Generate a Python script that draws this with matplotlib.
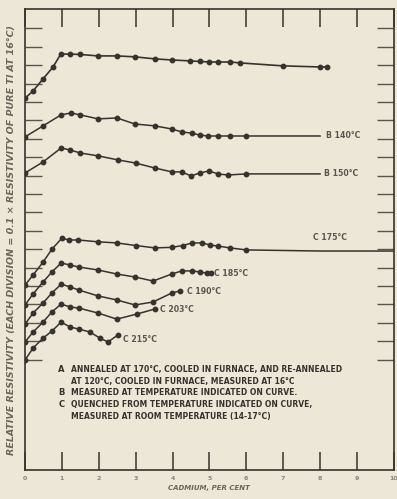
import matplotlib.pyplot as plt

# cadmium per cent / relative resistivity (divisions)
a_x = [0, 0.22, 0.49, 0.76, 0.97, 1.22, 1.49, 1.98, 2.49, 2.98, 3.52, 3.98, 4.47, 4.74, 5.0, 5.23, 5.56, 5.83, 6.99, 8.0, 8.2]
a_y = [20.2, 20.6, 21.25, 21.9, 22.6, 22.6, 22.58, 22.5, 22.5, 22.45, 22.34, 22.28, 22.23, 22.2, 22.17, 22.17, 22.17, 22.12, 21.96, 21.9, 21.9]

b140_x = [0, 0.49, 0.98, 1.25, 1.49, 1.98, 2.49, 2.98, 3.52, 3.98, 4.25, 4.53, 4.74, 4.96, 5.23, 5.56, 6.0, 8.0]
b140_y = [18.1, 18.7, 19.3, 19.4, 19.3, 19.08, 19.13, 18.8, 18.7, 18.53, 18.37, 18.3, 18.2, 18.15, 18.15, 18.15, 18.15, 18.15]

b150_x = [0, 0.49, 0.98, 1.22, 1.49, 1.98, 2.52, 3.0, 3.52, 3.98, 4.25, 4.5, 4.74, 4.99, 5.23, 5.5, 6.0, 8.0]
b150_y = [16.14, 16.74, 17.5, 17.39, 17.23, 17.07, 16.85, 16.68, 16.41, 16.2, 16.2, 15.98, 16.14, 16.25, 16.09, 16.03, 16.09, 16.09]

c175_x = [0, 0.22, 0.49, 0.73, 1.0, 1.19, 1.44, 1.98, 2.49, 3.0, 3.52, 3.98, 4.28, 4.53, 4.8, 5.01, 5.23, 5.56, 6.0, 8.0, 10.0]
c175_y = [10.05, 10.6, 11.3, 12.0, 12.6, 12.5, 12.5, 12.4, 12.34, 12.2, 12.07, 12.1, 12.2, 12.34, 12.34, 12.23, 12.17, 12.07, 11.96, 11.9, 11.9]

c185_x = [0, 0.22, 0.49, 0.73, 0.98, 1.22, 1.46, 1.98, 2.49, 2.98, 3.47, 3.98, 4.25, 4.53, 4.74, 4.93, 5.04]
c185_y = [8.97, 9.57, 10.22, 10.76, 11.25, 11.14, 11.03, 10.87, 10.65, 10.49, 10.27, 10.65, 10.82, 10.82, 10.76, 10.7, 10.7]

c190_x = [0, 0.22, 0.49, 0.73, 0.98, 1.22, 1.46, 1.98, 2.49, 2.98, 3.47, 3.98, 4.2]
c190_y = [7.93, 8.53, 9.08, 9.62, 10.1, 9.95, 9.78, 9.46, 9.24, 8.97, 9.13, 9.62, 9.73]

c203_x = [0, 0.22, 0.49, 0.73, 0.98, 1.22, 1.46, 1.98, 2.49, 3.04, 3.52]
c203_y = [6.96, 7.5, 8.04, 8.59, 9.02, 8.86, 8.8, 8.53, 8.2, 8.48, 8.75]

c215_x = [0, 0.22, 0.49, 0.73, 0.98, 1.22, 1.46, 1.76, 2.03, 2.25, 2.52]
c215_y = [5.98, 6.63, 7.17, 7.55, 8.04, 7.77, 7.66, 7.5, 7.17, 6.96, 7.34]

curve_labels = ['B 140°C', 'B 150°C', 'C 175°C', 'C 185°C', 'C 190°C', 'C 203°C', 'C 215°C']
label_x = [8.15, 8.1, 7.8, 5.12, 4.38, 3.66, 2.66]
label_y = [18.15, 16.09, 12.66, 10.7, 9.7, 8.7, 7.1]

x_ticks = list(range(11))
y_ticks = list(range(6, 25))

notes = [
    ('A', 'ANNEALED AT 170°C, COOLED IN FURNACE, AND RE-ANNEALED'),
    ('', 'AT 120°C, COOLED IN FURNACE, MEASURED AT 16°C'),
    ('B', 'MEASURED AT TEMPERATURE INDICATED ON CURVE.'),
    ('C', 'QUENCHED FROM TEMPERATURE INDICATED ON CURVE,'),
    ('', 'MEASURED AT ROOM TEMPERATURE (14-17°C)'),
]

bg = '#ece7d7'
ink = '#36332e'

fig = plt.figure(figsize=(3.97, 4.99), dpi=100, facecolor=bg)
ax = fig.add_axes([0.063, 0.058, 0.929, 0.924], facecolor=bg)

# line part / marker part (tails of long curves carry no dots)
ax.plot(a_x, a_y, '-o', color=ink, lw=1.2, ms=3.2)
for xs, ys, n in [(b140_x, b140_y, 1), (b150_x, b150_y, 1), (c175_x, c175_y, 2)]:
    ax.plot(xs, ys, '-', color=ink, lw=1.1)
    ax.plot(xs[:-n], ys[:-n], 'o', color=ink, ms=3.2)
for xs, ys in [(c185_x, c185_y), (c190_x, c190_y), (c203_x, c203_y), (c215_x, c215_y)]:
    ax.plot(xs, ys, '-o', color=ink, lw=1.1, ms=3.2)

for t, x, y in zip(curve_labels, label_x, label_y):
    ax.text(x, y, t, fontsize=5.6, color='#5a564e', va='center', ha='left', weight='bold')

for i, (k, line) in enumerate(notes):
    yy = 5.45 - i * 0.63
    if k:
        ax.text(0.9, yy, k, fontsize=6, color=ink, va='center', weight='bold')
    ax.text(1.24, yy, line, fontsize=5.5, color=ink, va='center', weight='bold')

ax.set_xlim(0, 10)
ax.set_ylim(0, 25.05)
ax.set_xticks(x_ticks)
ax.set_xticklabels([str(t) for t in x_ticks], fontsize=4.5, color='#8a8578', weight='bold')
ax.set_yticks(y_ticks)
ax.set_yticklabels([])
ax.tick_params(axis='x', direction='in', length=13, width=1.1, color=ink, top=True, pad=4)
ax.tick_params(axis='y', direction='in', length=12, width=1.0, color='#5a564e', right=True)
for s in ax.spines.values():
    s.set_color(ink)
    s.set_linewidth(1.2)

ax.set_xlabel('CADMIUM, PER CENT', fontsize=5, style='italic', weight='bold', color='#6a665c', labelpad=3)
ax.set_ylabel('RELATIVE RESISTIVITY (EACH DIVISION = 0.1 × RESISTIVITY OF PURE Tl AT 16°C)',
              fontsize=6.8, style='italic', weight='bold', color='#6a665c', labelpad=3)

fig.savefig('out.png', dpi=100, facecolor=bg)
